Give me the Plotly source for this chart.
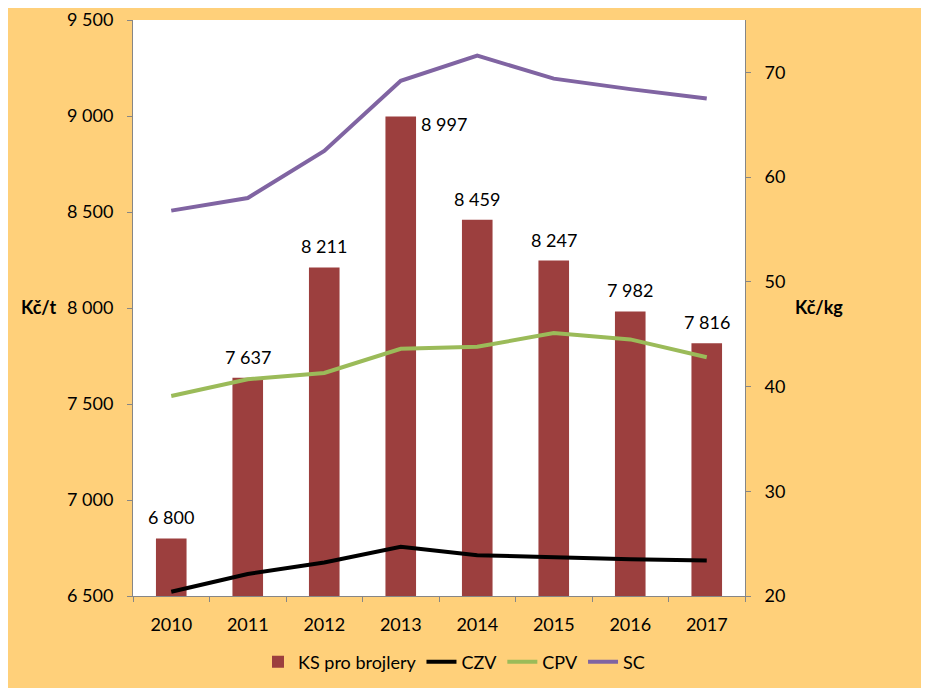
import plotly.graph_objects as go

years = ["2010", "2011", "2012", "2013", "2014", "2015", "2016", "2017"]
ks_brojlery = [6800, 7637, 8211, 8997, 8459, 8247, 7982, 7816]
czv = [20.4, 22.1, 23.2, 24.7, 23.9, 23.7, 23.5, 23.4]
cpv = [39.1, 40.7, 41.3, 43.6, 43.8, 45.1, 44.5, 42.8]
sc = [56.8, 58.0, 62.5, 69.2, 71.6, 69.4, 68.4, 67.5]

FONT = "Lato"
BG = "#FFD07A"
AXIS_COL = "#868686"

xi = list(range(len(years)))

fig = go.Figure()
fig.add_trace(go.Bar(x=xi, y=ks_brojlery, name="KS pro brojlery",
                     marker=dict(color="#9C3F3E", line=dict(width=0)), yaxis="y"))
fig.add_trace(go.Scatter(x=xi, y=czv, name="CZV", mode="lines",
                         line=dict(color="#000000", width=4), yaxis="y2"))
fig.add_trace(go.Scatter(x=xi, y=cpv, name="CPV", mode="lines",
                         line=dict(color="#9BBB59", width=4), yaxis="y2"))
fig.add_trace(go.Scatter(x=xi, y=sc, name="SC", mode="lines",
                         line=dict(color="#8064A2", width=4), yaxis="y2"))

def fmt(v):
    return f"{v:,}".replace(",", " ")

# page has an 8px body offset; compensate so plot area lands at 133..745 x 20..596
OFF = 8
PLOT_TOP = 20
W, H = 929, 688
L, T = 133 - OFF, PLOT_TOP - OFF
R = W + OFF - 745
B = H + OFF - 596
pw, ph = W - L - R, H - T - B

annotations = []
for i, (yr, v) in enumerate(zip(years, ks_brojlery)):
    if yr == "2013":
        annotations.append(dict(x=i, y=v, xref="x", yref="y", text=fmt(v),
                                showarrow=False, xanchor="left", yanchor="top",
                                xshift=18, yshift=6,
                                font=dict(family=FONT, size=18, color="#000000")))
    else:
        annotations.append(dict(x=i, y=v, xref="x", yref="y", text=fmt(v),
                                showarrow=False, xanchor="center", yanchor="bottom",
                                yshift=8,
                                font=dict(family=FONT, size=18, color="#000000")))

for txt, px, py in [("<b>Kč/t</b>", 38, 307), ("<b>Kč/kg</b>", 819, 307)]:
    annotations.append(dict(x=(px - 133) / pw, y=(596 - py) / ph, xref="paper", yref="paper",
                            text=txt, showarrow=False, xanchor="center", yanchor="middle",
                            font=dict(family=FONT, size=18, color="#000000")))

fig.update_layout(
    width=W, height=H,
    margin=dict(l=L, r=R, t=T, b=B, pad=0, autoexpand=False),
    paper_bgcolor=BG,
    plot_bgcolor="#FFFFFF",
    separators=", ",
    font=dict(family=FONT, size=18, color="#000000"),
    bargap=0.6,
    showlegend=True,
    legend=dict(orientation="h", x=(454 - 133) / pw, xanchor="center",
                y=(596 - 662) / ph, yanchor="middle",
                bgcolor="rgba(0,0,0,0)", font=dict(family=FONT, size=18),
                traceorder="normal"),
    xaxis=dict(range=[-0.5, len(years) - 0.5], tickmode="array", tickvals=xi, ticktext=years,
               showgrid=False, zeroline=False, showline=True, linecolor=AXIS_COL,
               linewidth=1, ticks="", tickfont=dict(family=FONT, size=18),
               ticklabelstandoff=12, automargin=False,
               minor=dict(ticks="outside", ticklen=5, tickcolor=AXIS_COL, tick0=-0.5, dtick=1,
                          showgrid=False)),
    yaxis=dict(range=[6500, 9500], dtick=500, tick0=6500, tickformat=",d",
               showgrid=False, zeroline=False, showline=True, linecolor=AXIS_COL,
               linewidth=1, ticks="outside", ticklen=5, tickcolor=AXIS_COL,
               tickfont=dict(family=FONT, size=18), ticklabelstandoff=10, automargin=False,
               ticklabeloverflow="allow"),
    yaxis2=dict(range=[20, 75], dtick=10, tick0=20, overlaying="y", side="right",
                showgrid=False, zeroline=False, showline=True, linecolor=AXIS_COL,
                linewidth=1, ticks="outside", ticklen=5, tickcolor=AXIS_COL,
                tickfont=dict(family=FONT, size=18), ticklabelstandoff=10, automargin=False,
                ticklabeloverflow="allow"),
    annotations=annotations,
)

fig.write_html("out.html")
